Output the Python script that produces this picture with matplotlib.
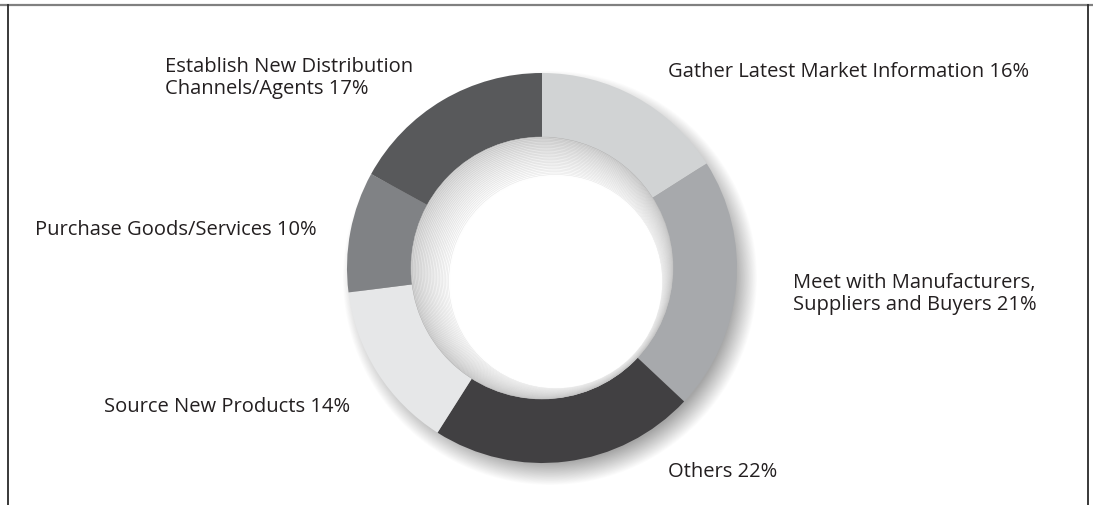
import matplotlib
matplotlib.use("Agg")
import matplotlib.pyplot as plt
from matplotlib.patches import Circle
from matplotlib.lines import Line2D
import numpy as np

# ---- data ----
categories = [
    "Gather Latest Market Information",
    "Meet with Manufacturers,\nSuppliers and Buyers",
    "Others",
    "Source New Products",
    "Purchase Goods/Services",
    "Establish New Distribution\nChannels/Agents",
]
shares = [16, 21, 22, 14, 10, 17]
slice_colors = ["#d1d3d4", "#a7a9ac", "#414042", "#e6e7e8", "#808285", "#58595b"]

W, H = 1093, 505
fig = plt.figure(figsize=(W / 100, H / 100), dpi=100)
ax = fig.add_axes([0, 0, 1, 1])

plt.rcParams['font.family'] = ['Open Sans', 'DejaVu Sans']

cx, cy = 542, H - 268
R_out, R_in = 195, 131

# soft drop shadow (offset to lower right)
n_sh = 30
for i in range(n_sh):
    r = R_out + 12 - i * 0.8
    ax.add_patch(Circle((cx + 8, cy - 10), r, facecolor="black", edgecolor="none",
                        alpha=0.011, zorder=1))

wedges, _ = ax.pie(shares, colors=slice_colors, startangle=90, counterclock=False,
                   radius=R_out, center=(cx, cy),
                   wedgeprops=dict(width=R_out - R_in, edgecolor="none", linewidth=0))
for w in wedges:
    w.set_zorder(3)

# inner bevel: concentric circles shifting toward the lower right
n_b = 26
r_white = 106
dx, dy = 14, -14
for i in range(n_b + 1):
    t = i / n_b
    r = R_in + (r_white - R_in) * t
    c = (cx + dx * t, cy + dy * t)
    g = 0.83 + 0.17 * t ** 0.7
    ec = max(g - 0.10, 0.0)
    ax.add_patch(Circle(c, r, facecolor=(g, g, g),
                        edgecolor=(ec, ec, ec) if i < n_b else "none",
                        linewidth=0.35, zorder=4 + i * 0.01))

# labels
label_pos = [
    (668, 72, "left"),
    (793, 294, "left"),
    (668, 472, "left"),
    (104, 407, "left"),
    (35, 230, "left"),
    (165, 78, "left"),
]
for cat, v, (x, y, ha) in zip(categories, shares, label_pos):
    ax.text(x, H - y, f"{cat} {v}%", ha=ha, va="center", fontsize=14.5,
            color="#231f20", linespacing=1.17, zorder=10)

ax.set_xlim(0, W)
ax.set_ylim(0, H)
ax.set_aspect("equal")
ax.axis("off")

# frame (figure coordinates)
fig.add_artist(Line2D([0, 1], [1 - 5 / H, 1 - 5 / H], color="#808080", lw=1.6,
                      solid_capstyle="butt", transform=fig.transFigure, zorder=20))
for xp in (7.5, 1087.5):
    fig.add_artist(Line2D([xp / W, xp / W], [1 - 5 / H, -0.1], color="#2a2a2a", lw=1.3,
                          transform=fig.transFigure, clip_on=False, zorder=20))

fig.savefig("out.png", dpi=100, facecolor="white")
